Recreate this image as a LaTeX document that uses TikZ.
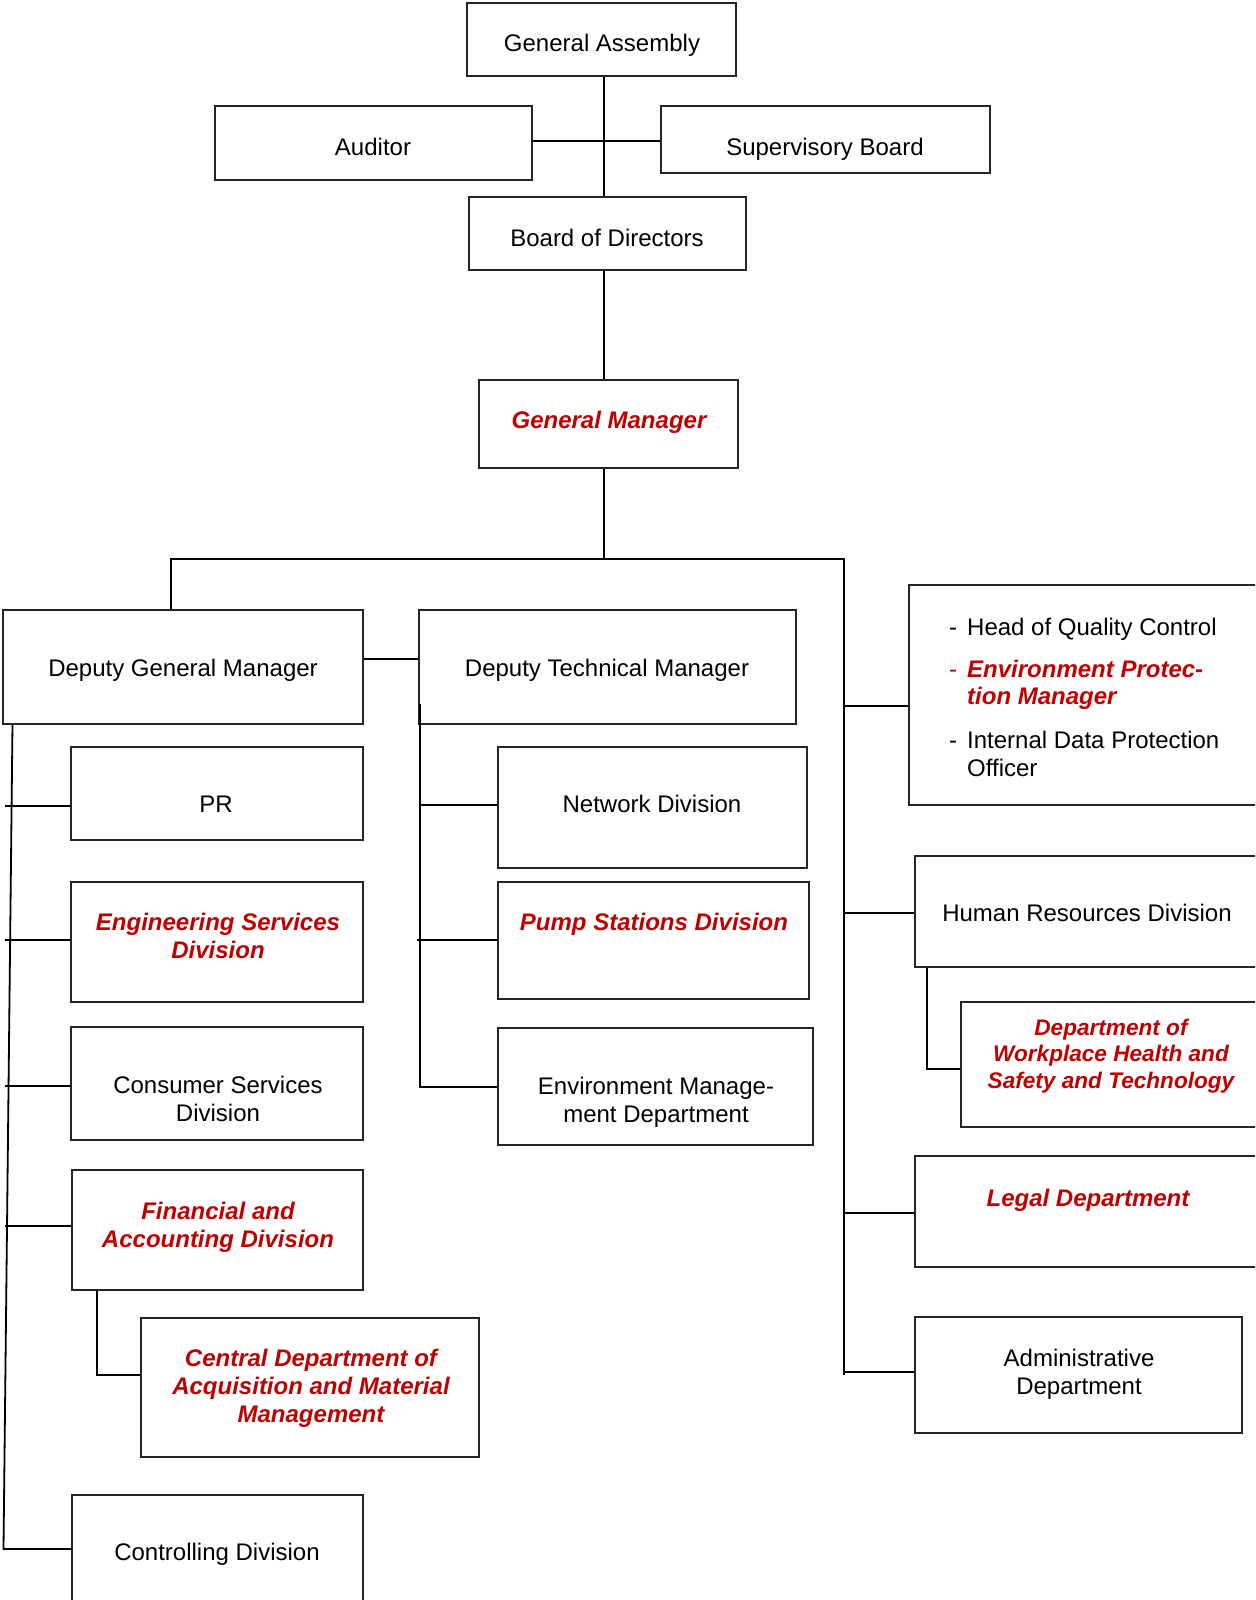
\documentclass[tikz,border=0pt]{standalone}
\usepackage{fontspec}
\setmainfont{Liberation Sans}
\definecolor{hl}{RGB}{192,0,0}
\begin{document}
\begin{tikzpicture}[x=1pt,y=-1pt,
  box/.style={draw=black!85, line width=1.3pt, inner sep=0pt, rectangle},
  con/.style={draw=black, line width=1.8pt},
  txt/.style={inner sep=0pt, align=center, font=\fontsize{24}{27.6}\selectfont, text height=17pt, text depth=5pt},
  hot/.style={txt, text=hl, font=\fontsize{24}{27.6}\selectfont\bfseries\itshape}
]
\clip (0,0) rectangle (1255,1600);
\fill[white] (0,0) rectangle (1255,1600);

% ---------- boxes ----------
\node[box, minimum width=269pt, minimum height=73pt] (ga) at (601.5,39.5) {};
\node[box, minimum width=317pt, minimum height=74pt] (aud) at (373.5,143) {};
\node[box, minimum width=329pt, minimum height=67pt] (sup) at (825.5,139.5) {};
\node[box, minimum width=277pt, minimum height=73pt] (bod) at (607.5,233.5) {};
\node[box, minimum width=259pt, minimum height=88pt] (gm) at (608.5,424) {};

\node[box, minimum width=360pt, minimum height=114pt] (dgm) at (183,667) {};
\node[box, minimum width=377pt, minimum height=114pt] (dtm) at (607.5,667) {};

\node[box, minimum width=292pt, minimum height=93pt] (pr) at (217,793.5) {};
\node[box, minimum width=292pt, minimum height=120pt] (eng) at (217,942) {};
\node[box, minimum width=292pt, minimum height=113pt] (cons) at (217,1083.5) {};
\node[box, minimum width=291pt, minimum height=120pt] (fin) at (217.5,1230) {};
\node[box, line width=2.6pt, minimum width=338pt, minimum height=139pt] (cent) at (310,1387.5) {};
\node[box, minimum width=291pt, minimum height=125pt] (ctrl) at (217.5,1557.5) {};

\node[box, minimum width=309pt, minimum height=121pt] (net) at (652.5,807.5) {};
\node[box, minimum width=311pt, minimum height=117pt] (pump) at (653.5,940.5) {};
\node[box, minimum width=315pt, minimum height=117pt] (env) at (655.5,1086.5) {};

\node[box, minimum width=361pt, minimum height=220pt] (qc) at (1089.5,695) {};
\node[box, minimum width=355pt, minimum height=111pt] (hr) at (1092.5,911.5) {};
\node[box, line width=2pt, minimum width=309pt, minimum height=125pt] (whs) at (1115.5,1064.5) {};
\node[box, minimum width=355pt, minimum height=111pt] (legal) at (1092.5,1211.5) {};
\node[box, minimum width=327pt, minimum height=116pt] (adm) at (1078.5,1375) {};

% ---------- texts ----------
\node[txt] (gaT) at (602,46) {General Assembly};
\node[txt] (audT) at (373,149) {Auditor};
\node[txt] (supT) at (825,149) {Supervisory Board};
\node[txt] (bodT) at (607,240) {Board of Directors};
\node[hot] (gmT) at (609,422) {General Manager};
\node[txt] (dgmT) at (183,670) {Deputy General Manager};
\node[txt] (dtmT) at (607,670) {Deputy Technical Manager};
\node[txt] (prT) at (216,806) {PR};
\node[hot] (engT) at (218,952) {Engineering Services\\Division};
\node[txt] (consT) at (218,1115) {Consumer Services\\Division};
\node[hot] (finT) at (218,1241) {Financial and\\Accounting Division};
\node[hot] (centT) at (311,1416) {Central Department of\\Acquisition and Material\\Management};
\node[txt] (ctrlT) at (217,1554) {Controlling Division};
\node[txt] (netT) at (652,806) {Network Division};
\node[hot] (pumpT) at (654,924) {Pump Stations Division};
\node[txt] (envT) at (656,1116) {Environment Manage-\\ment Department};
\node[txt] (hrT) at (1087,915) {Human Resources Division};
\node[hot, font=\fontsize{22.6}{26.5}\selectfont\bfseries\itshape] (whsT) at (1111,1082) {Department of\\Workplace Health and\\Safety and Technology};
\node[hot] (legalT) at (1088,1200) {Legal Department};
\node[txt] (admT) at (1079,1388) {Administrative\\Department};
\node[anchor=base west, align=left, inner sep=0pt, font=\fontsize{24}{27.6}\selectfont] (qcT) at (949,776)
  {\makebox[18pt][l]{-}Head of Quality Control\\[14pt]
   \makebox[18pt][l]{\textcolor{hl}{-}}\textcolor{hl}{\bfseries\itshape Environment Protec-}\\
   \hspace*{18pt}\textcolor{hl}{\bfseries\itshape tion Manager}\\[16pt]
   \makebox[18pt][l]{-}Internal Data Protection\\
   \hspace*{18pt}Officer};

% ---------- connectors ----------
\coordinate (sx) at (604,0);
\coordinate (ay) at (0,141);
\coordinate (bus) at (604,559);
\coordinate (bl) at (171,559);
\coordinate (br) at (844,559);
\coordinate (rb) at (844,1375);
\coordinate (dy) at (0,659);

\draw[con] (sx |- ga.south) -- (sx |- bod.north);
\draw[con] (aud.east |- ay) -- (sup.west |- ay);
\draw[con] (sx |- bod.south) -- (sx |- gm.north);
\draw[con] (sx |- gm.south) -- (bus);
\draw[con] (dgm.north -| bl) -- (bl) -- (br) -- (rb);
\draw[con] (dgm.east |- dy) -- (dtm.west |- dy);

% left spine
\coordinate (ls1) at (12.5,724);
\coordinate (ls2) at (3.5,1549);
\coordinate (tPR) at (5,806);
\coordinate (tEN) at (5,940);
\coordinate (tCO) at (5,1086);
\coordinate (tFI) at (5,1226);
\draw[con] (ls1) -- (ls2) -- (ctrl.west |- ls2);
\draw[con] (tPR) -- (pr.west |- tPR);
\draw[con] (tEN) -- (eng.west |- tEN);
\draw[con] (tCO) -- (cons.west |- tCO);
\draw[con] (tFI) -- (fin.west |- tFI);
\coordinate (fc) at (97,1375);
\draw[con] (fin.south -| fc) -- (fc) -- (cent.west |- fc);

% technical spine
\coordinate (dt1) at (420,704);
\coordinate (dt2) at (420,1087);
\coordinate (tNE) at (420,805);
\coordinate (tPU) at (417,940);
\draw[con] (dt1) -- (dt2) -- (env.west |- dt2);
\draw[con] (tNE) -- (net.west |- tNE);
\draw[con] (tPU) -- (pump.west |- tPU);

% right spine
\coordinate (tQC) at (844,706);
\coordinate (tHR) at (844,913);
\coordinate (tLE) at (844,1213);
\coordinate (tAD) at (844,1372);
\draw[con] (tQC) -- (qc.west |- tQC);
\draw[con] (tHR) -- (hr.west |- tHR);
\draw[con] (tLE) -- (legal.west |- tLE);
\draw[con] (tAD) -- (adm.west |- tAD);
\coordinate (hw) at (927,1069);
\draw[con] (hr.south -| hw) -- (hw) -- (whs.west |- hw);
\end{tikzpicture}
\end{document}
